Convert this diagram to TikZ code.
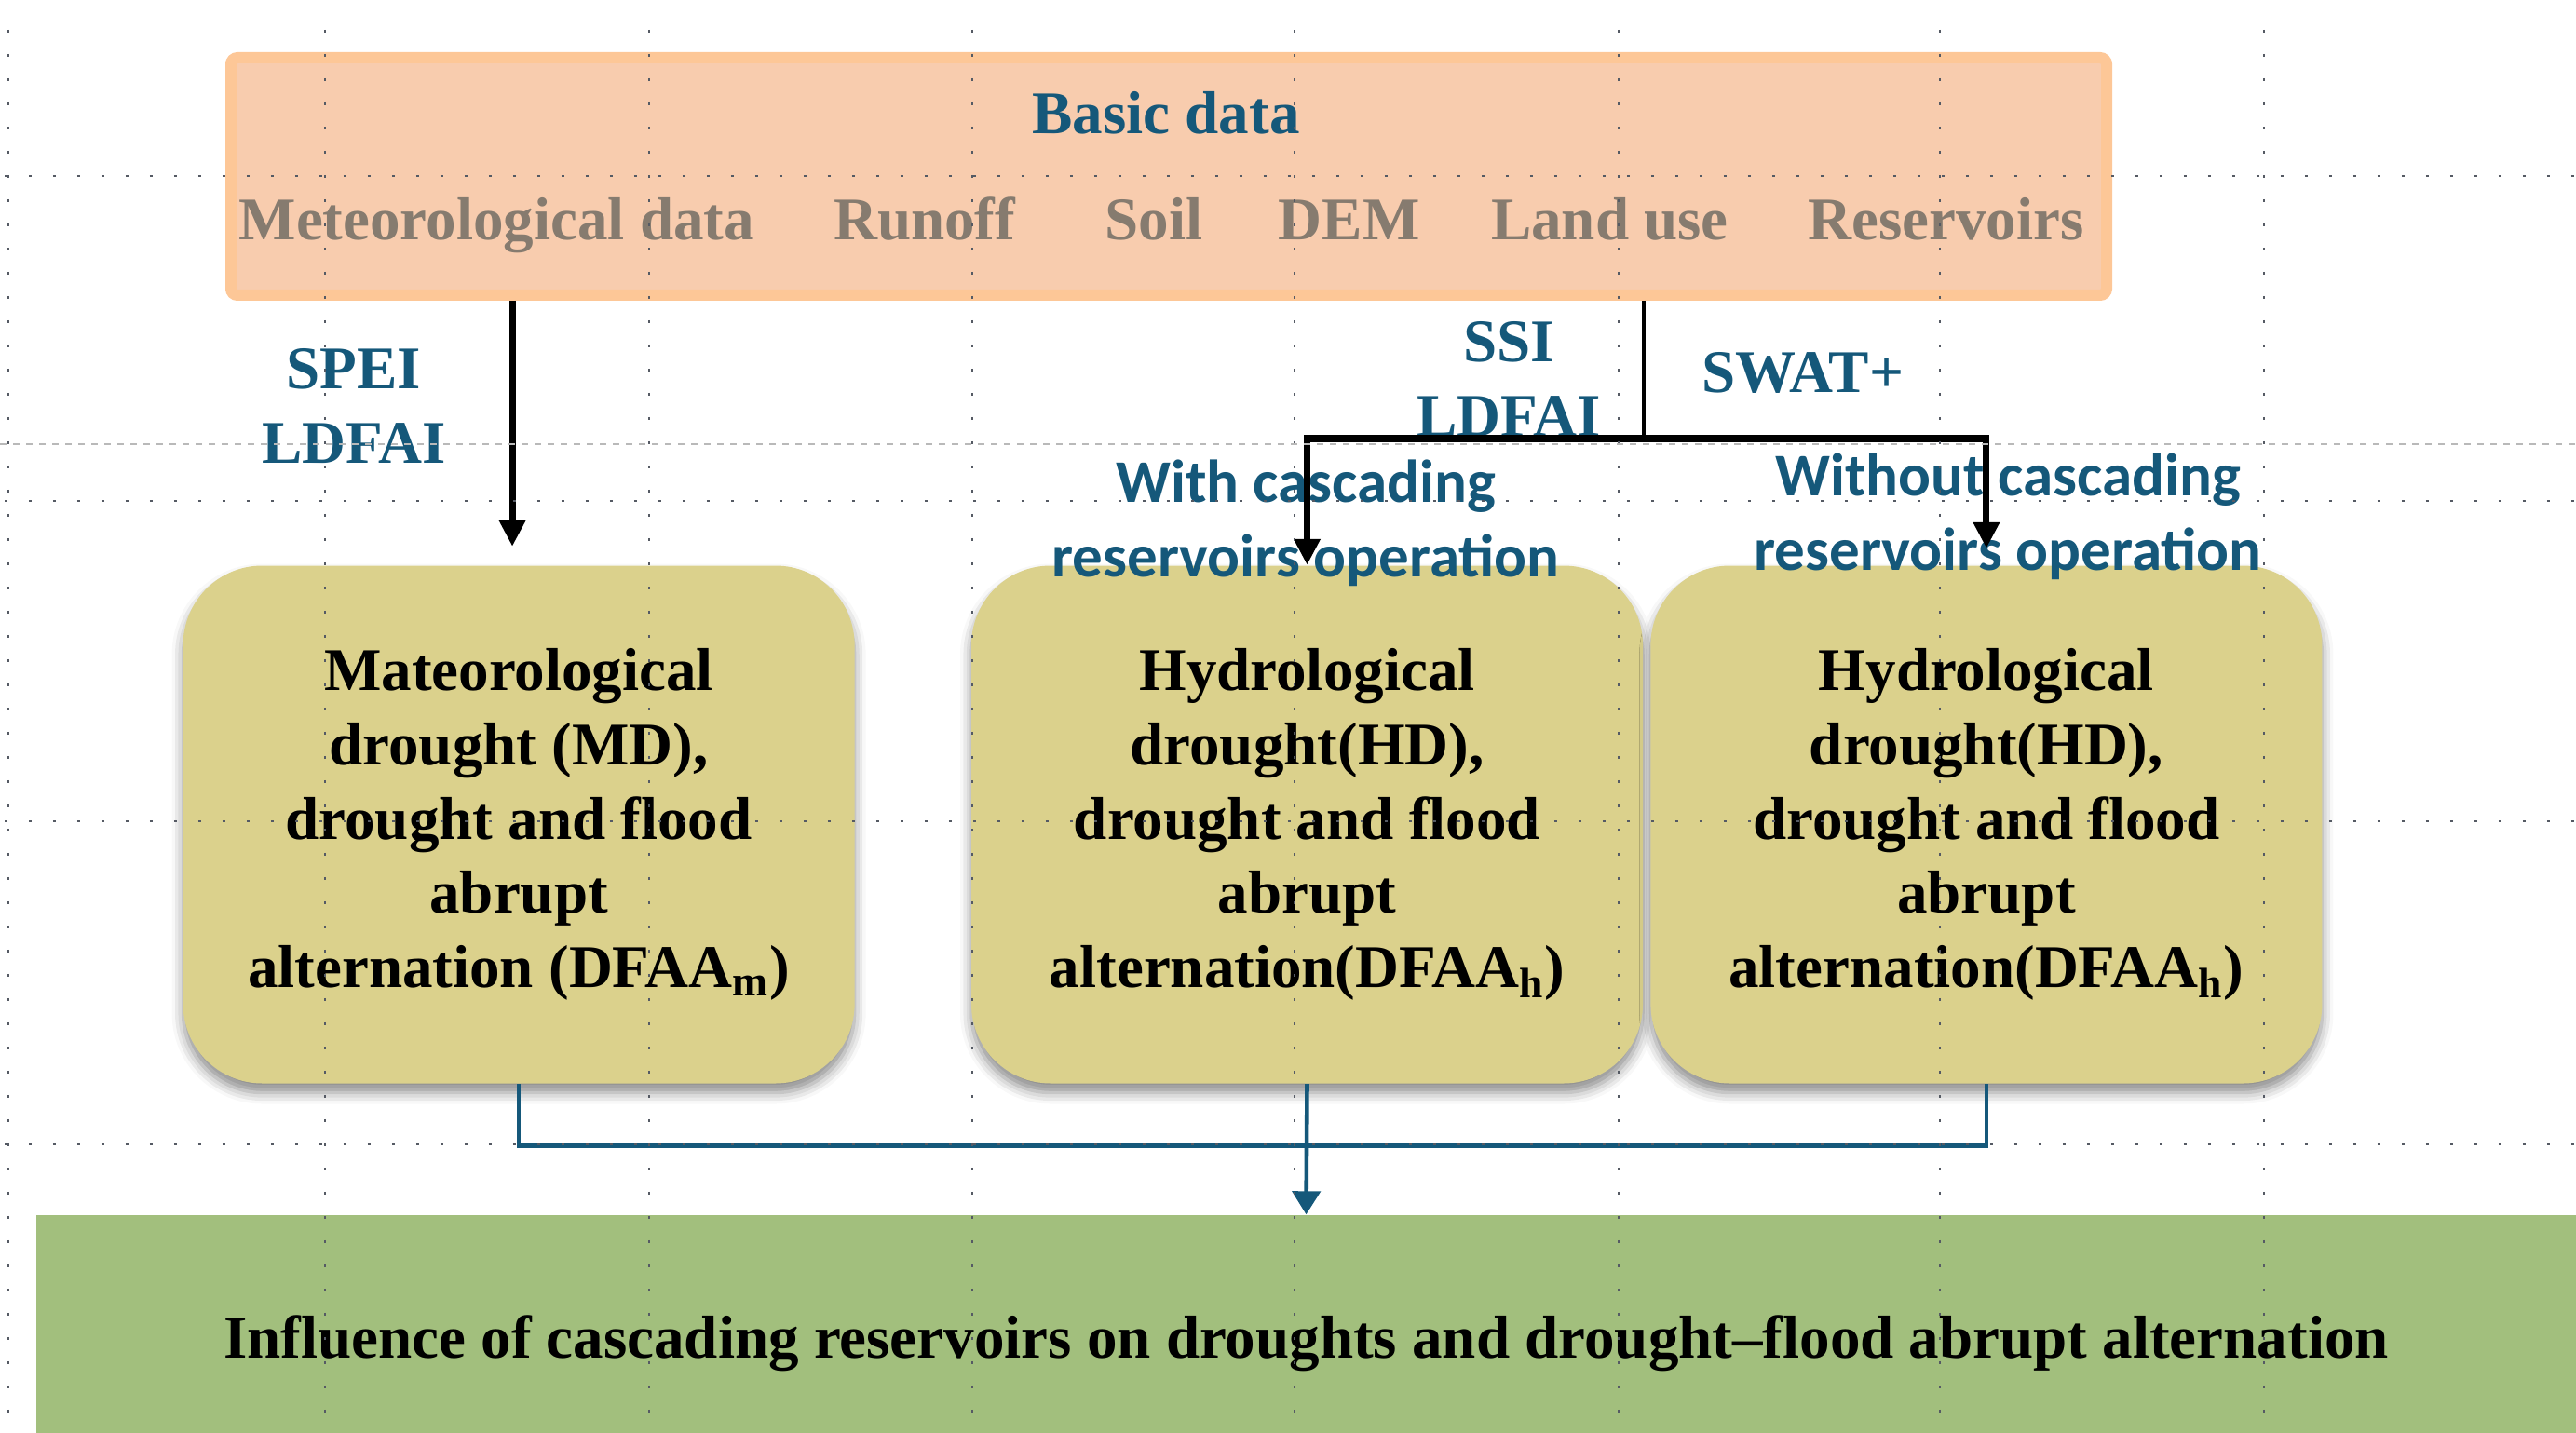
\documentclass[tikz,border=0pt]{standalone}
\usepackage{fontspec}
\setmainfont{Liberation Serif}
\newfontfamily\labelfont{Carlito}
\usetikzlibrary{positioning, calc, arrows.meta, shadows.blur}
\definecolor{basicfill}{HTML}{F8CCAE}
\definecolor{basicedge}{HTML}{FDC797}
\definecolor{droughtfill}{HTML}{DBD18C}
\definecolor{impactfill}{HTML}{A2BF7D}
\definecolor{indexblue}{HTML}{15587A}
\definecolor{itemgray}{HTML}{867B6F}
\definecolor{gridgray}{HTML}{555A64}

\begin{document}
\begin{tikzpicture}[
    >={Triangle[length=0.28cm, width=0.27cm]},
    font=\bfseries\fontsize{18.5}{22.7}\selectfont,
    node distance=0.84cm,
    databox/.style={
        draw=basicedge,
        fill=basicfill,
        line width=0.12cm,
        rounded corners=2pt,
        minimum width=20.14cm,
        minimum height=2.55cm
    },
    dataitem/.style={text=itemgray, inner sep=0pt},
    indexlabel/.style={text=indexblue, align=center, inner sep=0pt},
    caselabel/.style={indexlabel, font=\labelfont\bfseries\fontsize{18.5}{22.7}\selectfont},
    droughtbox/.style={
        fill=droughtfill,
        rounded corners=0.85cm,
        align=center,
        minimum width=7.21cm,
        minimum height=5.56cm,
        blur shadow={shadow xshift=0cm, shadow yshift=-0.1cm,
            shadow blur radius=0.12cm, shadow opacity=45}
    },
    impactbox/.style={fill=impactfill, minimum width=27.27cm, minimum height=2.76cm},
    flow/.style={->, line width=2pt},
    feed/.style={-{Triangle[length=0.25cm, width=0.3cm]}, draw=indexblue, line width=1.3pt},
    gridline/.style={gridgray, line width=0.026cm, dash pattern=on 0.026cm off 0.234cm},
    guideline/.style={gray!55, line width=0.02cm, dash pattern=on 0.07cm off 0.07cm}
]

\useasboundingbox (0,0) rectangle (27.66,-15.39);
\clip (0,0) rectangle (27.66,-15.39);

% input data
\node[databox] (basic) at (12.55,-1.895) {};
\node[indexlabel, anchor=base] (title) at (12.52,-1.435) {Basic data};
\node[dataitem, anchor=base west] (met) at (2.56,-2.58) {Meteorological data};
\node[dataitem, base right=of met] (runoff) {Runoff};
\node[dataitem, base right=0.95cm of runoff] (soil) {Soil};
\node[dataitem, base right=0.8cm of soil] (dem) {DEM};
\node[dataitem, base right=0.75cm of dem] (landuse) {Land use};
\node[dataitem, base right=of landuse] (reservoirs) {Reservoirs};

% drought types
\node[droughtbox] (hdwith) at (14.035,-8.855) {Hydrological\\drought(HD),\\drought and flood\\abrupt\\alternation(DFAA\textsubscript{h})};
\node[droughtbox, left=1.24cm of hdwith] (md) {Mateorological\\drought (MD),\\drought and flood\\abrupt\\alternation (DFAA\textsubscript{m})};
\node[droughtbox, right=0.07cm of hdwith] (hdwithout) {Hydrological\\drought(HD),\\drought and flood\\abrupt\\alternation(DFAA\textsubscript{h})};

\node[impactbox] (impact) at (14.025,-14.43) {Influence of cascading reservoirs on droughts and drought--flood abrupt alternation};

% indices and scenarios
\node[indexlabel] (spei) at (3.80,-4.36) {SPEI\\LDFAI};
\node[indexlabel] (ssi) at (16.20,-4.07) {SSI\\LDFAI};
\node[indexlabel] (swat) at (19.36,-4.00) {SWAT+};
\node[caselabel] (withcase) at (14.02,-5.62) {With cascading\\reservoirs operation};
\node[caselabel] (withoutcase) at (21.56,-5.55) {Without cascading\\reservoirs operation};

\coordinate (split) at (17.65,-4.71);
\coordinate (merge) at ($(hdwith.south)+(0,-0.66)$);

\draw[flow, shorten >=0.2cm] ([xshift=-0.07cm]md.north |- basic.south) -- ([xshift=-0.07cm]md.north);
\draw[line width=1.3pt] (basic.south -| split) -- (split);
\draw[flow] (split) -| (hdwith.north);
\draw[flow, shorten >=0.18cm] (split) -| (hdwithout.north);

\draw[feed, -] (md.south) |- (merge) -| (hdwithout.south);
\draw[feed] (hdwith.south) -- (impact.north);

% slide grid
\foreach \gx in {0.09,3.49,6.97,10.44,13.90,17.38,20.83,24.31}
    \draw[gridline] (\gx,-0.32) -- (\gx,-15.39);
\foreach \gy in {1.89,5.38,8.82,12.29}
    \draw[gridline] (0.05,-\gy) -- (27.66,-\gy);
\draw[guideline] (0,-4.77) -- (27.66,-4.77);

\end{tikzpicture}
\end{document}
